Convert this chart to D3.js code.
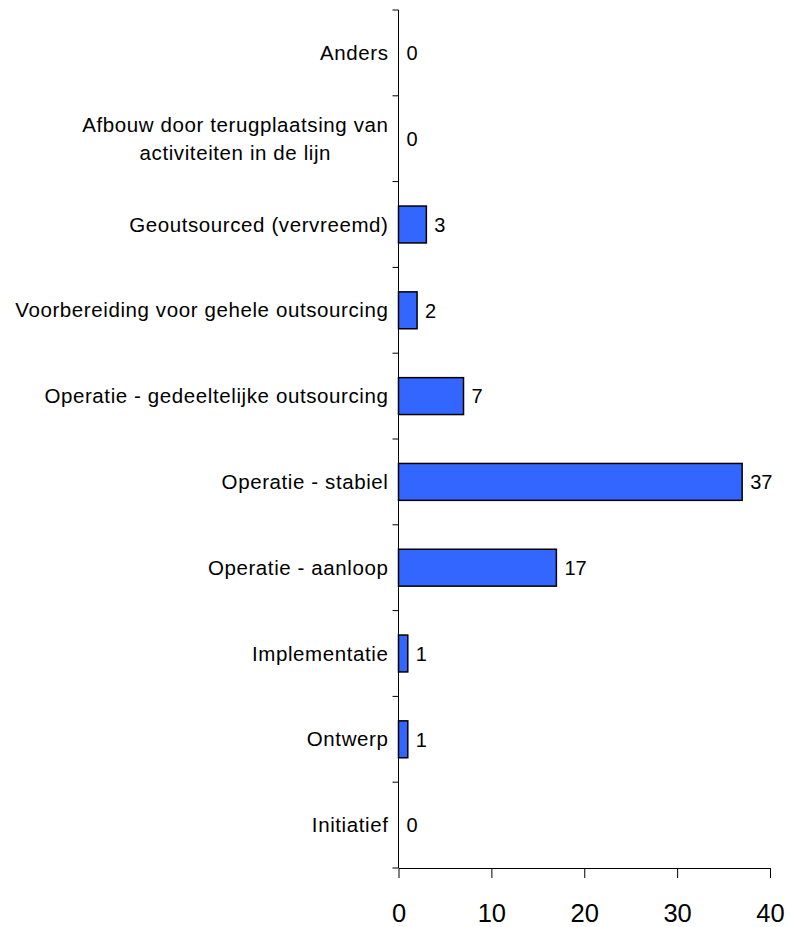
<!DOCTYPE html>
<html>
<head>
<meta charset="utf-8">
<script src="https://cdn.jsdelivr.net/npm/d3@7"></script>
<style>
  body { margin: 0; background: #fff; }
  svg text { font-family: Arial, "Liberation Sans", sans-serif; fill: #000; }
</style>
</head>
<body>
<div id="chart"></div>
<script>
// categories, top to bottom
var categories = [
    'Anders',
    'Afbouw door terugplaatsing van|activiteiten in de lijn',
    'Geoutsourced (vervreemd)',
    'Voorbereiding voor gehele outsourcing',
    'Operatie - gedeeltelijke outsourcing',
    'Operatie - stabiel',
    'Operatie - aanloop',
    'Implementatie',
    'Ontwerp',
    'Initiatief'
];
var counts = [0, 0, 3, 2, 7, 37, 17, 1, 1, 0];
var xTicks = [0, 10, 20, 30, 40];

var width = 791, height = 927;
var plotLeft = 398.5, plotRight = 770, plotTop = 10, plotBottom = 868;

var svg = d3.select('#chart').append('svg')
    .attr('width', width)
    .attr('height', height);

var x = d3.scaleLinear().domain([0, 40]).range([plotLeft, plotRight]);
var y = d3.scaleBand().domain(d3.range(categories.length)).range([plotTop, plotBottom])
    .paddingInner(0.57).paddingOuter(0.285);

// bars
svg.selectAll('.bar').data(counts).enter().append('rect')
    .attr('class', 'bar')
    .attr('x', x(0))
    .attr('y', function(d, i) { return y(i); })
    .attr('width', function(d) { return x(d) - x(0); })
    .attr('height', y.bandwidth())
    .style('fill', '#3366ff')
    .style('stroke', '#000')
    .style('stroke-width', '1.5px')
    .style('display', function(d) { return d > 0 ? null : 'none'; });

// value labels
svg.selectAll('.val').data(counts).enter().append('text')
    .attr('class', 'val')
    .attr('x', function(d) { return x(d) + 8; })
    .attr('y', function(d, i) { return y(i) + y.bandwidth() / 2; })
    .attr('dy', '0.36em')
    .style('font-size', '20px')
    .text(function(d) { return d; });

// y axis line + ticks at band boundaries
var step = (plotBottom - plotTop) / categories.length;
svg.append('line')
    .attr('x1', plotLeft).attr('x2', plotLeft)
    .attr('y1', plotTop).attr('y2', plotBottom)
    .style('stroke', '#000').style('stroke-width', '1px');
svg.selectAll('.ytick').data(d3.range(categories.length + 1)).enter().append('line')
    .attr('x1', plotLeft - 6).attr('x2', plotLeft)
    .attr('y1', function(i) { return plotTop + i * step; })
    .attr('y2', function(i) { return plotTop + i * step; })
    .style('stroke', '#000').style('stroke-width', '1px');

// category labels
var labels = svg.selectAll('.cat').data(categories).enter().append('text')
    .attr('class', 'cat')
    .style('font-size', '20.5px')
    .style('letter-spacing', '0.6px')
    .attr('y', function(d, i) { return y(i) + y.bandwidth() / 2; });

labels.each(function(d) {
    var lines = d.split('|');
    var t = d3.select(this);
    var lh = 28;
    lines.forEach(function(line, k) {
        t.append('tspan')
            .attr('dy', k === 0 ? ((-(lines.length - 1) * lh / 2) + 7) + 'px' : lh + 'px')
            .text(line);
    });
    // right edge of widest line 10px from the axis, lines centred
    var w = d3.max(t.selectAll('tspan').nodes(), function(n) { return n.getComputedTextLength(); });
    var cx = plotLeft - 10 - w / 2;
    t.attr('text-anchor', 'middle');
    t.selectAll('tspan').attr('x', cx);
});

// x axis
var xAxis = d3.axisBottom(x).tickValues(xTicks).tickSize(10).tickPadding(26).tickSizeOuter(0);
var gx = svg.append('g')
    .attr('transform', 'translate(0,' + plotBottom + ')')
    .call(xAxis);
gx.select('.domain').style('stroke', '#000');
gx.selectAll('.tick line').style('stroke', '#000');
gx.selectAll('.tick text')
    .style('font-size', '25.5px')
    .style('font-family', 'Arial, "Liberation Sans", sans-serif')
    .attr('fill', '#000');
</script>
</body>
</html>
